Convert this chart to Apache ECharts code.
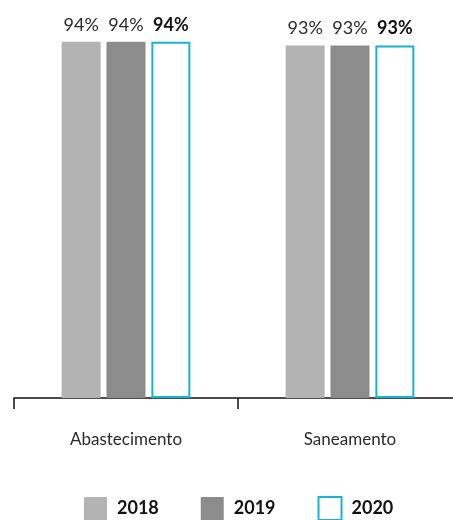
<!DOCTYPE html>
<html><head><meta charset="utf-8">
<script src="https://cdn.jsdelivr.net/npm/echarts@6/dist/echarts.min.js"></script>
<style>html,body{margin:0;padding:0;background:#fff;overflow:hidden}#c{width:470px;height:520px}</style>
</head><body><div id="c"></div>
<script>
const categories = ['Abastecimento', 'Saneamento'];
const seriesNames = ['2018', '2019', '2020'];
const values2018 = [94, 93];
const values2019 = [94, 93];
const values2020 = [94, 93];

const chart = echarts.init(document.getElementById('c'));
const font = 'Lato, "Noto Sans", sans-serif';
function lbl(bold) {
  return {
    show: true, position: 'top', distance: 8,
    formatter: p => p.value + '%',
    fontFamily: font, fontSize: 18, fontWeight: bold ? 'bold' : 'normal',
    color: bold ? '#111' : '#2a2a2a'
  };
}
chart.setOption({
  animation: false,
  grid: { left: 14, right: 8, top: 19, bottom: 122, containLabel: false },
  legend: {
    top: 496, left: 84, padding: 0, icon: 'rect',
    itemWidth: 23, itemHeight: 23, itemGap: 42,
    textStyle: { fontFamily: font, fontSize: 18, color: '#111', fontWeight: 'bold', padding: [0,0,0,5] },
    data: seriesNames
  },
  xAxis: {
    type: 'category', data: categories,
    axisLine: { lineStyle: { color: '#111', width: 1.5 } },
    axisTick: { show: true, length: 11, lineStyle: { color: '#111', width: 1.5 } },
    axisLabel: { margin: 33, fontFamily: font, fontSize: 17, color: '#2a2a2a' }
  },
  yAxis: { type: 'value', min: 0, max: 100, show: false, splitLine: { show: false } },
  series: [
    { name: seriesNames[0], type: 'bar', data: values2018, barWidth: 39, barGap: '15%',
      itemStyle: { color: '#b3b3b3' }, label: lbl(false) },
    { name: seriesNames[1], type: 'bar', data: values2019, barWidth: 39, barGap: '15%',
      itemStyle: { color: '#8c8c8c' }, label: lbl(false) },
    { name: seriesNames[2], type: 'bar', data: values2020, barWidth: 39, barGap: '15%',
      itemStyle: { color: '#ffffff', borderColor: '#1ab1d6', borderWidth: 2 }, label: lbl(true) }
  ]
});
</script></body></html>
